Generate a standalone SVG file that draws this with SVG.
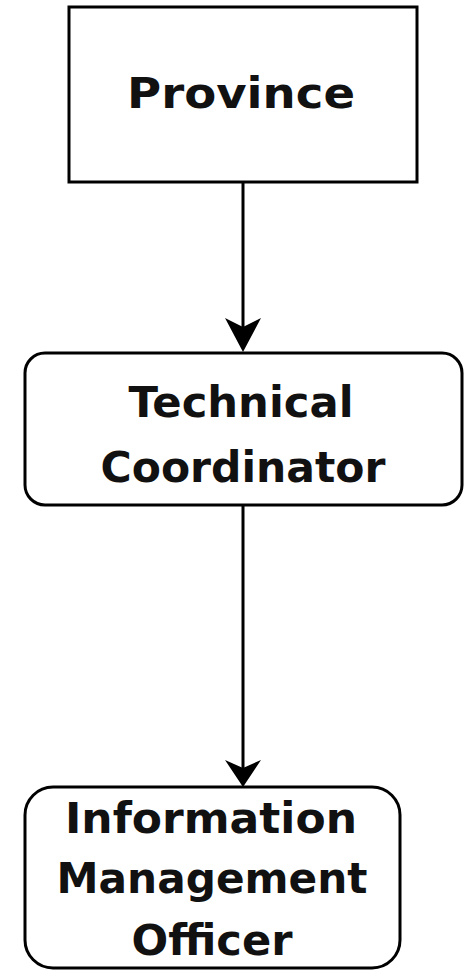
<svg xmlns="http://www.w3.org/2000/svg" width="472" height="971" viewBox="0 0 472 971">
<style>
.box{fill:#fff;stroke:#000;stroke-width:3}
.lbl{font-family:"DejaVu Sans",Verdana,sans-serif;font-weight:bold;font-size:43px;fill:#111;text-anchor:middle}
.edge{stroke:#000;stroke-width:3;fill:none}
.head{fill:#000}
</style>
<rect width="472" height="971" fill="#fff"/>
<g id="edges">
<line class="edge" x1="243" y1="182" x2="243" y2="340"/>
<path class="head" d="M243,352 L225,318 L243,327 L261,318 Z"/>
<line class="edge" x1="243" y1="505" x2="243" y2="775"/>
<path class="head" d="M243,787 L225,760 L243,768 L261,760 Z"/>
</g>
<g id="province">
<rect class="box" x="69" y="7" width="348" height="175"/>
<text class="lbl" x="241" y="108" textLength="228" lengthAdjust="spacingAndGlyphs">Province</text>
</g>
<g id="technical-coordinator">
<rect class="box" x="25" y="353" width="437" height="152" rx="20" ry="20"/>
<text class="lbl" x="241" y="417" textLength="225" lengthAdjust="spacingAndGlyphs">Technical</text>
<text class="lbl" x="243" y="482" textLength="285" lengthAdjust="spacingAndGlyphs">Coordinator</text>
</g>
<g id="information-management-officer">
<rect class="box" x="25" y="787" width="375" height="181" rx="28" ry="28"/>
<text class="lbl" x="211" y="833" textLength="292" lengthAdjust="spacingAndGlyphs">Information</text>
<text class="lbl" x="212" y="893" textLength="311" lengthAdjust="spacingAndGlyphs">Management</text>
<text class="lbl" x="212" y="955" textLength="161" lengthAdjust="spacingAndGlyphs">Officer</text>
</g>
</svg>
